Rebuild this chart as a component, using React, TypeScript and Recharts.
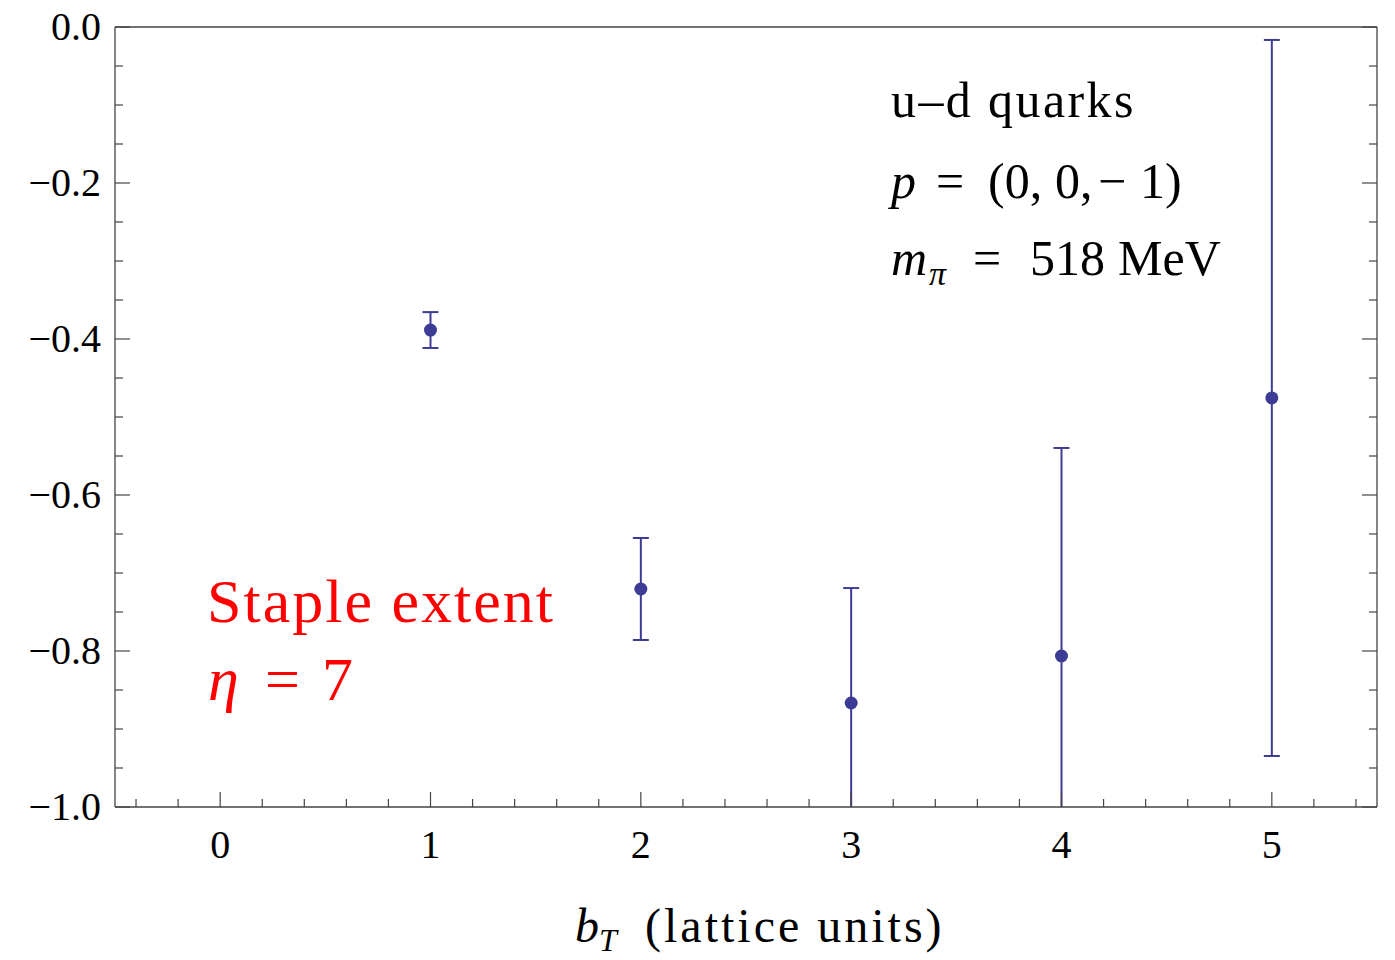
import { ComposedChart, Scatter, ErrorBar, XAxis, YAxis } from "recharts"

// b_T values and the measured ratio with symmetric errors
const bT = [1, 2, 3, 4, 5]
const values = [-0.3885, -0.7205, -0.8667, -0.8064, -0.4756]
const errors = [0.023, 0.0654, 0.1474, 0.2667, 0.459]

const xTicks = [
  -0.4, -0.2, 0, 0.2, 0.4, 0.6, 0.8, 1, 1.2, 1.4, 1.6, 1.8, 2, 2.2, 2.4, 2.6, 2.8, 3, 3.2, 3.4, 3.6, 3.8, 4,
  4.2, 4.4, 4.6, 4.8, 5, 5.2, 5.4,
]
const yTicks = [
  -1, -0.95, -0.9, -0.85, -0.8, -0.75, -0.7, -0.65, -0.6, -0.55, -0.5, -0.45, -0.4, -0.35, -0.3, -0.25, -0.2,
  -0.15, -0.1, -0.05, 0,
]

const points = bT.map((x, i) => ({ x, y: values[i], err: errors[i] }))

const FONT = "'Liberation Serif', 'Times New Roman', serif"
const BLUE = "#3c3c96"
const FRAME = "#444"

const isMajorX = (v: number) => Math.abs(v - Math.round(v)) < 1e-6
const isMajorY = (v: number) => Math.abs(v * 5 - Math.round(v * 5)) < 1e-6
const fmtY = (v: number) => (v < 0 ? "\u2212" + Math.abs(v).toFixed(1) : v.toFixed(1))

const BottomTick = ({ x, y, payload }: any) => {
  const major = isMajorX(payload.value)
  return (
    <g>
      <line x1={x} x2={x} y1={y} y2={y - (major ? 15 : 8)} stroke={FRAME} strokeWidth={1.2} />
      {major && (
        <text x={x} y={y + 51} textAnchor="middle" fontFamily={FONT} fontSize={40} fill="#000">
          {payload.value}
        </text>
      )}
    </g>
  )
}

const TopTick = ({ x, y, payload }: any) => {
  const major = isMajorX(payload.value)
  return <line x1={x} x2={x} y1={y} y2={y + (major ? 15 : 8)} stroke={FRAME} strokeWidth={1.2} />
}

const LeftTick = ({ x, y, payload }: any) => {
  const major = isMajorY(payload.value)
  return (
    <g>
      <line x1={x} x2={x + (major ? 15 : 8)} y1={y} y2={y} stroke={FRAME} strokeWidth={1.2} />
      {major && (
        <text x={x - 14} y={y + 13} textAnchor="end" fontFamily={FONT} fontSize={40} fill="#000">
          {fmtY(payload.value)}
        </text>
      )}
    </g>
  )
}

const RightTick = ({ x, y, payload }: any) => {
  const major = isMajorY(payload.value)
  return <line x1={x} x2={x - (major ? 15 : 8)} y1={y} y2={y} stroke={FRAME} strokeWidth={1.2} />
}

const Dot = (props: any) => <circle cx={props.cx} cy={props.cy} r={6.5} fill={BLUE} />

export default function App() {
  return (
    <div style={{ position: "absolute", left: 0, top: 0, background: "#fff" }}>
      <ComposedChart width={1395} height={960} margin={{ top: 26, right: 17, left: 15, bottom: 53 }}>
        <defs>
          <clipPath id="plotClip">
            <rect x={115} y={27} width={1262} height={780} />
          </clipPath>
        </defs>
        <XAxis
          xAxisId="bottom"
          dataKey="x"
          type="number"
          domain={[-0.5, 5.5]}
          allowDataOverflow
          ticks={xTicks}
          interval={0}
          tick={BottomTick}
          tickSize={0}
          tickMargin={0}
          tickLine={false}
          axisLine={{ stroke: FRAME, strokeWidth: 1.3 }}
          height={100}
        />
        <XAxis
          xAxisId="top"
          orientation="top"
          type="number"
          domain={[-0.5, 5.5]}
          allowDataOverflow
          ticks={xTicks}
          interval={0}
          tick={TopTick}
          tickSize={0}
          tickMargin={0}
          tickLine={false}
          axisLine={{ stroke: FRAME, strokeWidth: 1.3 }}
          height={1}
        />
        <YAxis
          yAxisId="left"
          type="number"
          domain={[-1, 0]}
          allowDataOverflow
          ticks={yTicks}
          interval={0}
          tick={LeftTick}
          tickSize={0}
          tickMargin={0}
          tickLine={false}
          axisLine={{ stroke: FRAME, strokeWidth: 1.3 }}
          width={100}
        />
        <YAxis
          yAxisId="right"
          orientation="right"
          type="number"
          domain={[-1, 0]}
          allowDataOverflow
          ticks={yTicks}
          interval={0}
          tick={RightTick}
          tickSize={0}
          tickMargin={0}
          tickLine={false}
          axisLine={{ stroke: FRAME, strokeWidth: 1.3 }}
          width={1}
        />
        <Scatter
          data={points}
          dataKey="y"
          xAxisId="bottom"
          yAxisId="left"
          shape={Dot}
          fill={BLUE}
          isAnimationActive={false}
        >
          <ErrorBar
            dataKey="err"
            direction="y"
            width={8}
            stroke={BLUE}
            strokeWidth={2}
            clipPath="url(#plotClip)"
            isAnimationActive={false}
          />
        </Scatter>

        <text x={891} y={117} fontFamily={FONT} fontSize={50} letterSpacing={2.4} fill="#000">
          u–d quarks
        </text>
        <text y={198} fontFamily={FONT} fontSize={50} fill="#000">
          <tspan x={891} fontStyle="italic">p</tspan>
          <tspan x={936}>=</tspan>
          <tspan x={988}>(0,</tspan>
          <tspan x={1055}>0,</tspan>
          <tspan x={1098}>−</tspan>
          <tspan x={1140}>1)</tspan>
        </text>
        <text y={275} fontFamily={FONT} fontSize={50} fill="#000">
          <tspan x={891} fontStyle="italic">m</tspan>
          <tspan x={929} fontStyle="italic" fontSize={34} dy={10}>π</tspan>
          <tspan x={973} dy={-10}>=</tspan>
          <tspan x={1030}>518</tspan>
          <tspan x={1118}>MeV</tspan>
        </text>

        <text x={207} y={622} fontFamily={FONT} fontSize={62} letterSpacing={2} fill="#ff0000">
          Staple extent
        </text>
        <text y={700} fontFamily={FONT} fontSize={62} fill="#ff0000">
          <tspan x={208} fontStyle="italic">η</tspan>
          <tspan x={265}>=</tspan>
          <tspan x={322}>7</tspan>
        </text>

        <text y={942} fontFamily={FONT} fontSize={48} fill="#000">
          <tspan x={575} fontStyle="italic">b</tspan>
          <tspan x={599} fontStyle="italic" fontSize={32} dy={9}>T</tspan>
          <tspan x={645} dy={-9} letterSpacing={3}>(lattice units)</tspan>
        </text>
      </ComposedChart>
    </div>
  )
}
